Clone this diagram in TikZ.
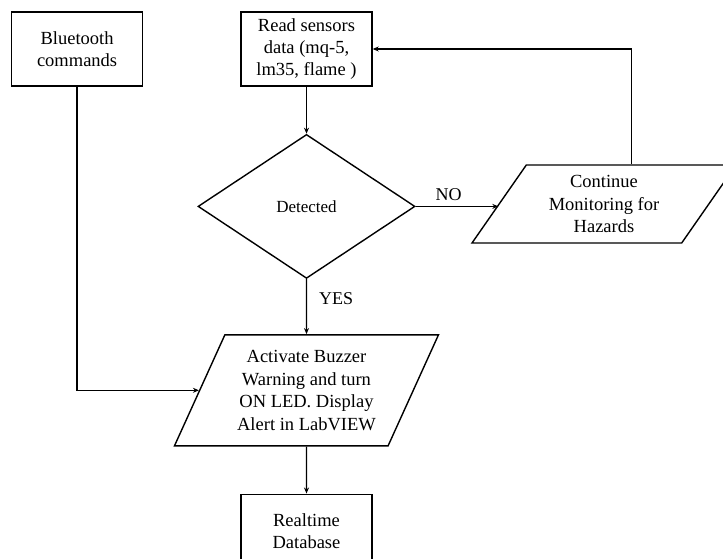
\documentclass[tikz,border=0pt]{standalone}
\usepackage{fontspec}
\setmainfont{Liberation Serif}
\usetikzlibrary{positioning,arrows.meta,shapes.geometric}

\begin{document}
\begin{tikzpicture}[
   node distance = 47pt and 97pt,
   box/.style = {draw, line width=1.4pt, minimum height=74pt, minimum width=131pt,
                 inner sep=0pt, align=center, font=\fontsize{18.5}{22}\selectfont},
   dec/.style = {draw, diamond, line width=1.4pt, minimum width=217pt,
                 minimum height=144pt, inner sep=0pt, font=\fontsize{17}{20}\selectfont},
   io/.style  = {draw, trapezium, trapezium stretches body, line width=1.4pt,
                 minimum width=264pt, inner sep=0pt, align=center,
                 font=\fontsize{18.5}{22.5}\selectfont},
   arr/.style = {-{Stealth[length=6pt,width=5pt]}, line width=1.4pt},
   lbl/.style = {inner sep=2pt, font=\fontsize{18}{20}\selectfont}
]
\clip (0pt,0pt) rectangle (723pt,-559pt);
\node[box] (sensors) at (306.5pt,-49pt) {Read sensors\\data (mq-5,\\lm35, flame )};
\node[box, left=97pt of sensors]  (bt)   {Bluetooth\\commands};
\node[dec, below=of sensors]      (dia)  {Detected};
\node[io, minimum height=78pt,
      trapezium left angle=46.6, trapezium right angle=133.4] (cont)
      at (604pt,-204pt) {Continue\\Monitoring for\\Hazards};
\node[io, below=55pt of dia, minimum height=111pt,
      trapezium left angle=57.8, trapezium right angle=122.2] (act)
      {Activate Buzzer\\Warning and turn\\ON LED. Display\\Alert in LabVIEW};
\node[box, below=of act]          (db)   {Realtime\\Database};

\draw[arr] (sensors) -- (dia);
\draw[arr] (dia) -- node[lbl, pos=0.36, right=10pt]{YES} (act);
\draw[arr] (dia.east) -- node[lbl, pos=0.4, above=3pt]{NO} (dia.east -| cont.left side);
\draw[arr] (cont.top side) |- (sensors.east);
\draw[arr] (bt) |- (act.left side);
\draw[arr] (act) -- (db);
\end{tikzpicture}
\end{document}
